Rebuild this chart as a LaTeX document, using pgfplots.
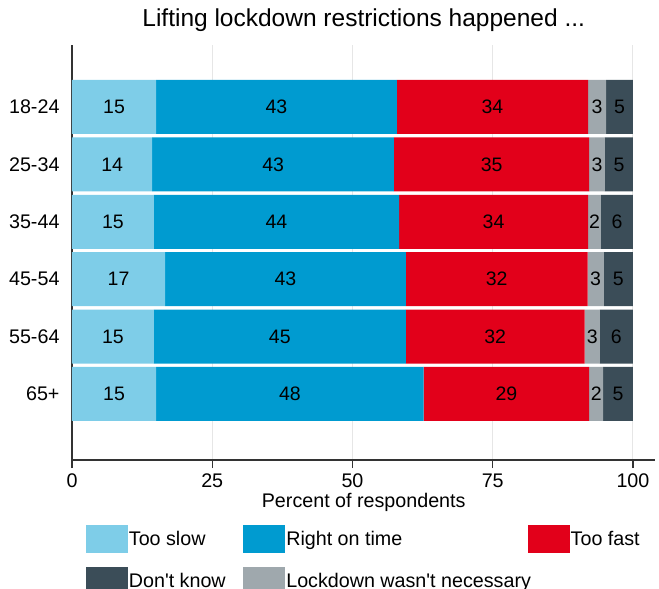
\documentclass[border=0pt]{standalone}
\usepackage{pgfplots}
\usepackage{pgfplotstable}
\pgfplotsset{compat=1.18}
\usepackage{fontspec}
\setmainfont{Liberation Sans}
\definecolor{cslow}{HTML}{7ECDE8}
\definecolor{cright}{HTML}{009BD0}
\definecolor{cfast}{HTML}{E2001A}
\definecolor{cdk}{HTML}{3B4D58}
\definecolor{cnn}{HTML}{9FA8AD}
\definecolor{cgrid}{HTML}{E6E6E6}

% row 5 = top (18-24), row 0 = bottom (65+)
\pgfplotstableread{
row slow right fast notnec dk Lslow Lright Lfast Lnotnec Ldk
5 15.0 42.9 34.1 3.2 4.8 15 43 34 3 5
4 14.3 43.1 34.8 2.8 5.0 14 43 35 3 5
3 14.6 43.7 33.7 2.3 5.7 15 44 34 2 6
2 16.6 42.9 32.4 2.9 5.2 17 43 32 3 5
1 14.6 44.9 31.9 2.7 5.9 15 45 32 3 6
0 15.0 47.7 29.5 2.5 5.3 15 48 29 2 5
}\data

\pgfplotsset{
  common/.style={
    scale only axis, width=583.4pt, height=415pt,
    xmin=0, xmax=104, ymin=-1.15, ymax=6.08,
  },
  lab/.style={only marks, mark=none, nodes near coords, nodes near coords align=center,
    point meta=explicit symbolic,
    every node near coord/.append style={font=\fontsize{19.5}{23}\selectfont, text=black}},
}

\begin{document}
\begin{tikzpicture}
\begin{axis}[common,
  xbar stacked, bar width=54pt,
  axis x line*=bottom, axis y line*=left,
  axis line style={black!80, line width=1.2pt},
  xtick={0,25,50,75,100},
  /pgf/number format/assume math mode=true,
  xmajorgrids, grid style={cgrid, line width=1pt},
  ytick={0,1,2,3,4,5},
  yticklabels={65+,55-64,45-54,35-44,25-34,18-24},
  y tick style={draw=none},
  x tick style={black!80, line width=1.2pt},
  tick align=outside, major tick length=8pt,
  ticklabel style={font=\fontsize{19.7}{23}\selectfont},
  yticklabel style={xshift=-1pt},
  xticklabel style={yshift=-2pt},
  title={Lifting lockdown restrictions happened ...},
  title style={font=\fontsize{24.5}{28}\selectfont, at={(rel axis cs:0.5,1)}, anchor=center, yshift=19pt},
  xlabel={Percent of respondents},
  xlabel style={font=\fontsize{19.7}{23}\selectfont, at={(rel axis cs:0.5,0)}, anchor=center, yshift=-42pt},
  legend columns=3,
  legend cell align=left,
  legend style={at={(rel axis cs:0,0)}, anchor=north west, xshift=14pt, yshift=-65pt,
    draw=none, fill=none, inner sep=0pt, outer sep=0pt,
    font=\fontsize{19.7}{23}\selectfont,
    column sep=0pt, row sep=15pt,
    nodes={inner xsep=1.5pt, inner ysep=0pt},
  },
]
\addplot[forget plot, fill=cslow, draw=none] table[x=slow, y=row] {\data};
\addplot[forget plot, fill=cright, draw=none] table[x=right, y=row] {\data};
\addplot[forget plot, fill=cfast, draw=none] table[x=fast, y=row] {\data};
\addplot[forget plot, fill=cnn, draw=none] table[x=notnec, y=row] {\data};
\addplot[forget plot, fill=cdk, draw=none] table[x=dk, y=row] {\data};
\addlegendimage{legend image code/.code={\fill[cslow] (0pt,-13.5pt) rectangle (41pt,13.5pt);}}
\addlegendentry{\makebox[113pt][l]{Too slow}}
\addlegendimage{legend image code/.code={\fill[cright] (0pt,-13.5pt) rectangle (41pt,13.5pt);}}
\addlegendentry{\makebox[240pt][l]{Right on time}}
\addlegendimage{legend image code/.code={\fill[cfast] (0pt,-13.5pt) rectangle (41pt,13.5pt);}}
\addlegendentry{Too fast}
\addlegendimage{legend image code/.code={\fill[cdk] (0pt,-13.5pt) rectangle (41pt,13.5pt);}}
\addlegendentry{\makebox[113pt][l]{Don\textquotesingle t know}}
\addlegendimage{legend image code/.code={\fill[cnn] (0pt,-13.5pt) rectangle (41pt,13.5pt);}}
\addlegendentry{\makebox[240pt][l]{Lockdown wasn\textquotesingle t necessary}}
\end{axis}
\begin{axis}[common, hide axis]
\addplot[lab] table[x expr=\thisrow{slow}/2, y=row, meta=Lslow] {\data};
\addplot[lab] table[x expr=\thisrow{slow}+\thisrow{right}/2, y=row, meta=Lright] {\data};
\addplot[lab] table[x expr=\thisrow{slow}+\thisrow{right}+\thisrow{fast}/2, y=row, meta=Lfast] {\data};
\addplot[lab] table[x expr=\thisrow{slow}+\thisrow{right}+\thisrow{fast}+\thisrow{notnec}/2, y=row, meta=Lnotnec] {\data};
\addplot[lab] table[x expr=\thisrow{slow}+\thisrow{right}+\thisrow{fast}+\thisrow{notnec}+\thisrow{dk}/2, y=row, meta=Ldk] {\data};
\end{axis}
\pgfresetboundingbox
\path[use as bounding box] (-72pt,-129pt) rectangle (587pt,460pt);
\end{tikzpicture}
\end{document}
